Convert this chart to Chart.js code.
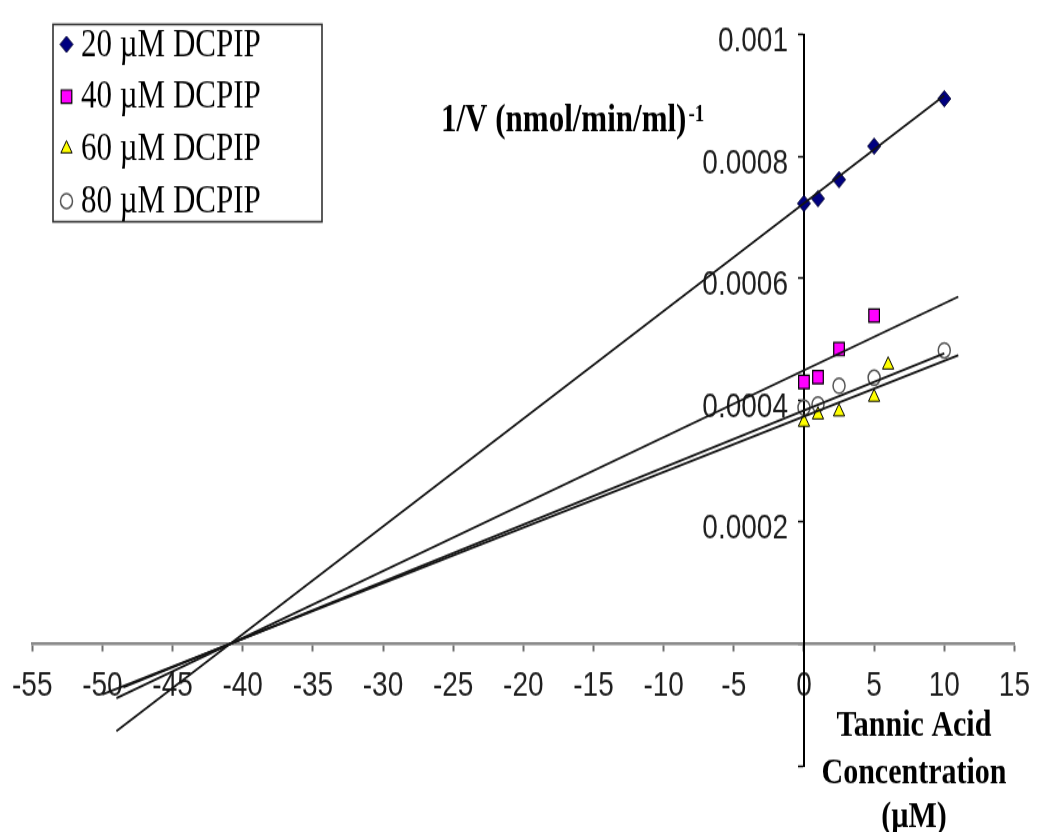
<!DOCTYPE html>
<html>
<head>
<meta charset="utf-8">
<title>Lineweaver-Burk plot: Tannic acid inhibition</title>
<style>
  html { overflow: hidden; background: #ffffff; }
  body { margin: 0; padding: 0; background: #ffffff; height: 832px; }
  /* the plot is drawn on a 1042x666 canvas and shown stretched to 832px tall */
  #wrap { width: 1042px; height: 666px; transform: scaleY(1.2492); transform-origin: 0 0; }
  canvas { display: block; }
</style>
<script src="https://cdn.jsdelivr.net/npm/chart.js@4/dist/chart.umd.min.js"></script>
</head>
<body>
<div id="wrap"><canvas id="chart" width="1042" height="666"></canvas></div>
<script>
// ---- data ----
const seriesLabels = ['20 µM DCPIP', '40 µM DCPIP', '60 µM DCPIP', '80 µM DCPIP'];

// measured 1/V at each tannic acid concentration (µM)
const dcpip20X = [0, 1, 2.5, 5, 10];
const dcpip20Y = [0.000723, 0.000731, 0.000762, 0.000817, 0.000895];
const dcpip40X = [0, 1, 2.5, 5];
const dcpip40Y = [0.000430, 0.000438, 0.000484, 0.000539];
const dcpip60X = [0, 1, 2.5, 5, 6];
const dcpip60Y = [0.000364, 0.000376, 0.000381, 0.000405, 0.000458];
const dcpip80X = [0, 1, 2.5, 5, 10];
const dcpip80Y = [0.000388, 0.000393, 0.000424, 0.000437, 0.000482];

// linear trendlines (start and end of each fitted line)
const fit20X = [-49, 10];
const fit20Y = [-0.000143, 0.000900];
const fit40X = [-49, 11];
const fit40Y = [-0.000089, 0.000570];
const fit60X = [-50, 11];
const fit60Y = [-0.000083, 0.000474];
const fit80X = [-48.5, 10];
const fit80Y = [-0.000071, 0.000477];

// axis tick labels
const xTickLabels = ['-55', '-50', '-45', '-40', '-35', '-30', '-25', '-20', '-15', '-10', '-5', '0', '5', '10', '15'];
const yTickLabels = ['', '', '0.0002', '0.0004', '0.0006', '0.0008', '0.001'];

// axis titles
const yTitle = '1/V (nmol/min/ml)';
const yTitleSup = '-1';
const xTitleLines = ['Tannic Acid', 'Concentration', '(µM)'];

// ---- helpers ----
const pts = (xs, ys) => xs.map((x, i) => ({ x: x, y: ys[i] }));

// linear scale whose tick labels keep a gap from an axis drawn through the plot
const Y_LABEL_GAP = 16;
class CrossingLinearScale extends Chart.LinearScale {
  _computeLabelItems(chartArea) {
    const items = super._computeLabelItems(chartArea);
    if (!this.isHorizontal()) {
      items.forEach(it => { it.options.translation[0] -= Y_LABEL_GAP; });
    }
    return items;
  }
}
CrossingLinearScale.id = 'crossingLinear';
CrossingLinearScale.defaults = Chart.LinearScale.defaults;
Chart.register(CrossingLinearScale);

const markerStyles = [
  { pointStyle: 'rectRot',  radius: 6.5, backgroundColor: '#000080', borderColor: '#000033', borderWidth: 1 },
  { pointStyle: 'rect',     radius: 7.5, backgroundColor: '#ff00ff', borderColor: '#000000', borderWidth: 1.2 },
  { pointStyle: 'triangle', radius: 6.5, backgroundColor: '#ffff00', borderColor: '#000000', borderWidth: 1 },
  { pointStyle: 'circle',   radius: 6,   backgroundColor: 'rgba(255,255,255,0)', borderColor: '#555555', borderWidth: 1.5 }
];

function pointDataset(label, xs, ys, m) {
  return {
    label: label,
    data: pts(xs, ys),
    showLine: false,
    pointStyle: m.pointStyle,
    pointRadius: m.radius,
    pointHoverRadius: m.radius,
    pointBackgroundColor: m.backgroundColor,
    pointBorderColor: m.borderColor,
    pointBorderWidth: m.borderWidth,
    order: 2
  };
}

function fitDataset(xs, ys) {
  return {
    label: 'trend',
    data: pts(xs, ys),
    showLine: true,
    pointRadius: 0,
    borderColor: '#141414',
    borderWidth: 1.8,
    fill: false,
    order: 1
  };
}

const pointSets = [
  pointDataset(seriesLabels[0], dcpip20X, dcpip20Y, markerStyles[0]),
  pointDataset(seriesLabels[1], dcpip40X, dcpip40Y, markerStyles[1]),
  pointDataset(seriesLabels[2], dcpip60X, dcpip60Y, markerStyles[2]),
  pointDataset(seriesLabels[3], dcpip80X, dcpip80Y, markerStyles[3])
];
const fitSets = [
  fitDataset(fit20X, fit20Y),
  fitDataset(fit40X, fit40Y),
  fitDataset(fit60X, fit60Y),
  fitDataset(fit80X, fit80Y)
];

const tickFont = { family: "'Liberation Sans', Arial, sans-serif", size: 28, weight: 'normal' };
const serif = "'Liberation Serif', 'Times New Roman', serif";

// boxed legend in the upper left corner
const boxLegend = {
  id: 'boxLegend',
  afterDraw(chart) {
    const ctx = chart.ctx;
    ctx.save();
    ctx.strokeStyle = '#333333';
    ctx.lineWidth = 1.6;
    ctx.strokeRect(53, 19.5, 269, 158);
    ctx.font = '31px ' + serif;
    ctx.textBaseline = 'middle';
    ctx.textAlign = 'left';
    for (let i = 0; i < 4; i++) {
      const ds = chart.data.datasets[i];
      const m = markerStyles[i];
      const cy = 35.5 + i * 41.8;
      ctx.fillStyle = m.backgroundColor;
      ctx.strokeStyle = m.borderColor;
      ctx.lineWidth = m.borderWidth;
      Chart.helpers.drawPoint(ctx, { pointStyle: m.pointStyle, radius: m.radius, rotation: 0, borderWidth: m.borderWidth }, 66.5, cy);
      ctx.fillStyle = '#000000';
      ctx.fillText(ds.label, 81, cy + 1);
    }
    ctx.restore();
  }
};

// axis titles
const axisTitles = {
  id: 'axisTitles',
  afterDraw(chart) {
    const ctx = chart.ctx;
    ctx.save();
    ctx.fillStyle = '#000000';
    ctx.textBaseline = 'alphabetic';
    ctx.textAlign = 'left';
    ctx.font = 'bold 31px ' + serif;
    ctx.fillText(yTitle, 441, 105);
    const w = ctx.measureText(yTitle).width;
    ctx.font = 'bold 19px ' + serif;
    ctx.fillText(yTitleSup, 441 + w + 2, 97);

    ctx.font = 'bold 30px ' + serif;
    ctx.textAlign = 'center';
    const base = [589, 627, 662];
    xTitleLines.forEach((t, i) => ctx.fillText(t, 914, base[i]));
    ctx.restore();
  }
};

new Chart(document.getElementById('chart'), {
  type: 'scatter',
  data: { datasets: pointSets.concat(fitSets) },
  options: {
    responsive: false,
    devicePixelRatio: 1,
    animation: false,
    events: [],
    layout: { padding: { left: 22, right: 25, top: 19, bottom: 53 } },
    plugins: {
      legend: { display: false },
      tooltip: { enabled: false },
      title: { display: false }
    },
    scales: {
      x: {
        type: 'crossingLinear',
        min: -55,
        max: 15,
        position: { y: 0 },
        border: { display: true, color: '#8a8a8a', width: 2.5 },
        grid: { drawOnChartArea: false, drawTicks: true, tickLength: 5, tickWidth: 2, tickColor: '#6e6e6e' },
        ticks: {
          stepSize: 5,
          autoSkip: false,
          maxRotation: 0,
          padding: 12,
          color: '#1e1e1e',
          font: tickFont,
          callback: (v, i) => xTickLabels[i]
        }
      },
      y: {
        type: 'crossingLinear',
        min: -0.0002,
        max: 0.001,
        position: { x: 0 },
        border: { display: true, color: '#000000', width: 2 },
        grid: { drawOnChartArea: false, drawTicks: true, tickLength: 5, tickWidth: 1.5, tickColor: '#000000' },
        ticks: {
          stepSize: 0.0002,
          autoSkip: false,
          padding: 11,
          labelOffset: 5.5,
          color: '#1e1e1e',
          font: tickFont,
          callback: (v, i) => yTickLabels[i]
        }
      }
    }
  },
  plugins: [boxLegend, axisTitles]
});
</script>
</body>
</html>
